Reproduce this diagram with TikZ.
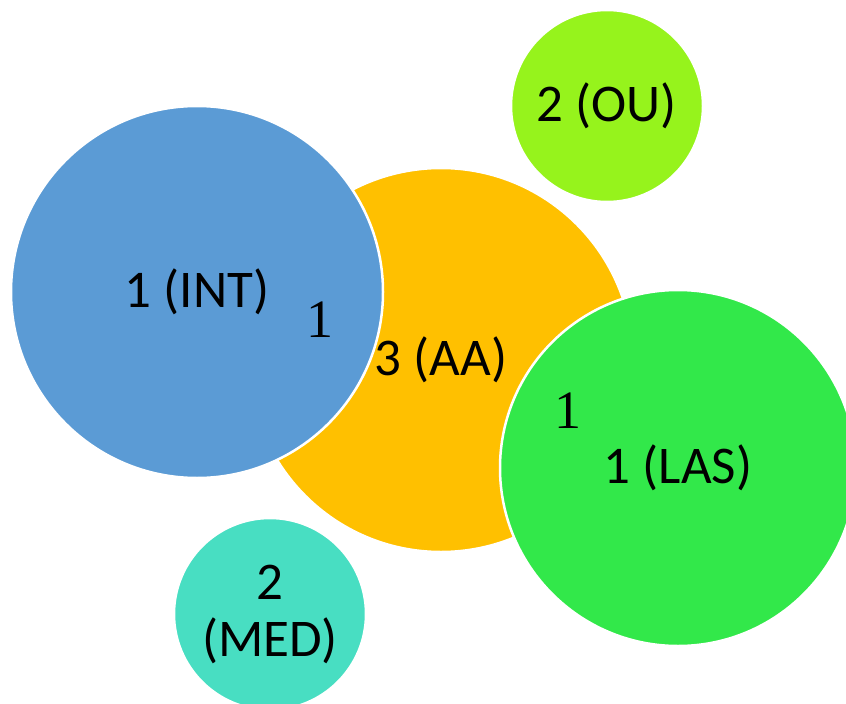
\documentclass[tikz,border=0pt]{standalone}
\usepackage{fontspec}
\setmainfont{Carlito}
\newfontfamily\numfont{Liberation Serif}
\definecolor{cblue}{RGB}{91,155,213}
\definecolor{corange}{RGB}{255,192,0}
\definecolor{cgreen}{RGB}{50,232,74}
\definecolor{clime}{RGB}{150,243,28}
\definecolor{cteal}{RGB}{72,222,194}
\begin{document}
\begin{tikzpicture}[x=1pt,y=-1pt,
  bubble/.style={circle,draw=white,line width=2.5pt,inner sep=0pt,align=center,
    font=\fontsize{53}{57}\selectfont,text=black},
  onelabel/.style={inner sep=0pt,font=\numfont\fontsize{54}{54}\selectfont}]
\useasboundingbox (0,0) rectangle (846,704);
\clip (0,0) rectangle (846,704);
\node[bubble,fill=corange,minimum size=384pt] (aa) at (441,360) {3 (AA)};
\node[bubble,fill=clime,minimum size=192pt] (ou) at (607,106) {2 (OU)};
\node[bubble,fill=cteal,minimum size=192pt] (med) at (270,614) {2\\(MED)};
\node[bubble,fill=cblue,minimum size=372pt] (int) at (197,292) {1 (INT)};
\node[bubble,fill=cgreen,minimum size=356pt] (las) at (678,468) {1 (LAS)};
\node[onelabel] (one1) at (320,320) {1};
\node[onelabel] (one2) at (568,411) {1};
\end{tikzpicture}
\end{document}
